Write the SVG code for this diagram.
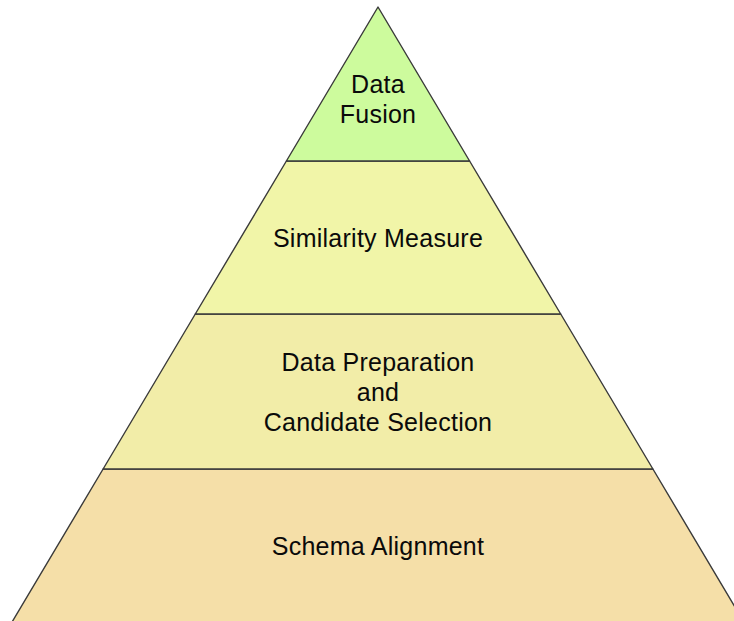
<svg xmlns="http://www.w3.org/2000/svg" width="734" height="621" viewBox="0 0 734 621">
  <style>
    .layer { stroke: #3a3a3a; stroke-width: 1.4; stroke-linejoin: round; }
    .label { font-family: "Liberation Sans", Arial, sans-serif; font-size: 25px; fill: #0a0a0a; text-anchor: middle; letter-spacing: 0.25px; }
  </style>
  <rect width="734" height="621" fill="#ffffff"/>

  <!-- Bottom layer (runs past the lower edge of the canvas) -->
  <g id="schema-alignment">
    <polygon class="layer" fill="#f5dfa8" points="103.1,469 652.9,469 748.7,630 7.3,630"/>
    <text class="label" x="378" y="555">Schema Alignment</text>
  </g>

  <!-- Third layer -->
  <g id="data-preparation">
    <polygon class="layer" fill="#f2eda8" points="195.3,314 560.7,314 652.9,469 103.1,469"/>
    <text class="label" x="378" y="371">Data Preparation</text>
    <text class="label" x="378" y="401">and</text>
    <text class="label" x="378" y="431">Candidate Selection</text>
  </g>

  <!-- Second layer -->
  <g id="similarity-measure">
    <polygon class="layer" fill="#f1f5a8" points="286.4,161 469.6,161 560.7,314 195.3,314"/>
    <text class="label" x="378" y="247">Similarity Measure</text>
  </g>

  <!-- Apex -->
  <g id="data-fusion">
    <polygon class="layer" fill="#cdfb9d" points="378,7 469.6,161 286.4,161"/>
    <text class="label" x="378" y="93">Data</text>
    <text class="label" x="378" y="123">Fusion</text>
  </g>

  <g id="connectors"/>
</svg>
